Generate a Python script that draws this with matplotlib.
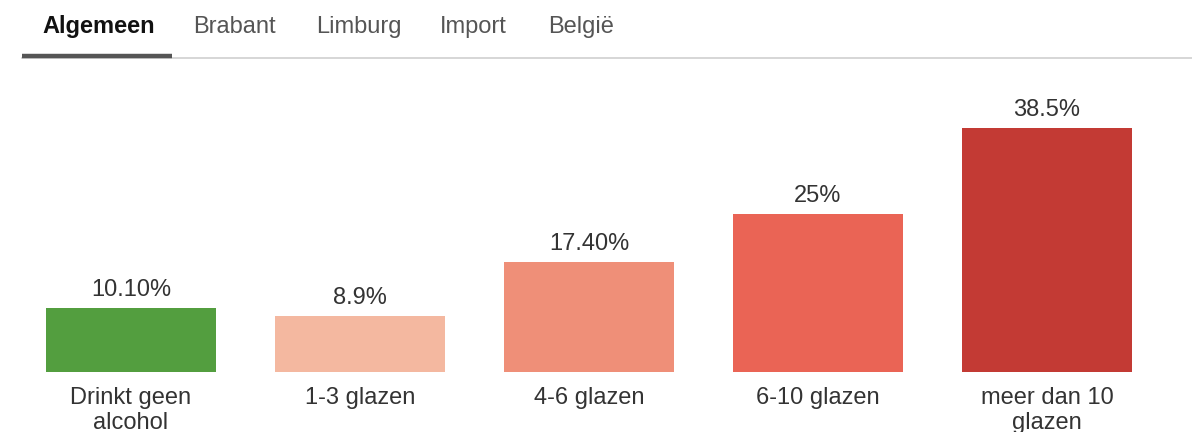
import matplotlib
matplotlib.use('Agg')
from matplotlib import pyplot as plt
from matplotlib.lines import Line2D

# data
categories = ['Drinkt geen\nalcohol', '1-3 glazen', '4-6 glazen', '6-10 glazen', 'meer dan 10\nglazen']
values = [10.10, 8.9, 17.40, 25, 38.5]
value_labels = ['10.10%', '8.9%', '17.40%', '25%', '38.5%']
bar_colors = ['#539e3f', '#f4b8a0', '#ef8f78', '#ea6455', '#c33a34']
tabs = ['Algemeen', 'Brabant', 'Limburg', 'Import', 'België']
tab_x = [42, 193, 316, 440, 548]   # left edge of each tab label, px

W, H = 1192, 432
plt.rcParams['font.family'] = ['Liberation Sans', 'DejaVu Sans']

fig = plt.figure(figsize=(W / 100, H / 100), dpi=100)

# tab bar
for i, (t, x) in enumerate(zip(tabs, tab_x)):
    fig.text(x / W, 1 - 27 / H, t, fontsize=17,
             fontweight='bold' if i == 0 else 'normal',
             color='#111111' if i == 0 else '#555555',
             ha='left', va='center')
fig.add_artist(Line2D([22 / W, 1], [1 - 58 / H, 1 - 58 / H], color='#d0d0d0', lw=1.2))
fig.add_artist(Line2D([22 / W, 172 / W], [1 - 56 / H, 1 - 56 / H], color='#555555', lw=3.2,
                      solid_capstyle='butt'))

# bar chart
ax = fig.add_axes([0, 60 / H, 1, 302 / H])
x = list(range(len(values)))
ax.bar(x, values, width=0.742, color=bar_colors)
ax.set_xlim(-131 / 229, 4 + (W - 1047) / 229)
ax.set_ylim(0, 302 / 6.34)

for xi, v, lab in zip(x, values, value_labels):
    ax.annotate(lab, (xi, v), xytext=(0, 5), textcoords='offset points',
                ha='center', va='bottom', fontsize=17, color='#333333')

ax.set_xticks(x)
ax.set_xticklabels(categories, fontsize=17, color='#333333', linespacing=1.15)
ax.tick_params(axis='x', length=0, pad=11)
ax.set_yticks([])
for s in ax.spines.values():
    s.set_visible(False)

fig.savefig('out.png', dpi=100)
